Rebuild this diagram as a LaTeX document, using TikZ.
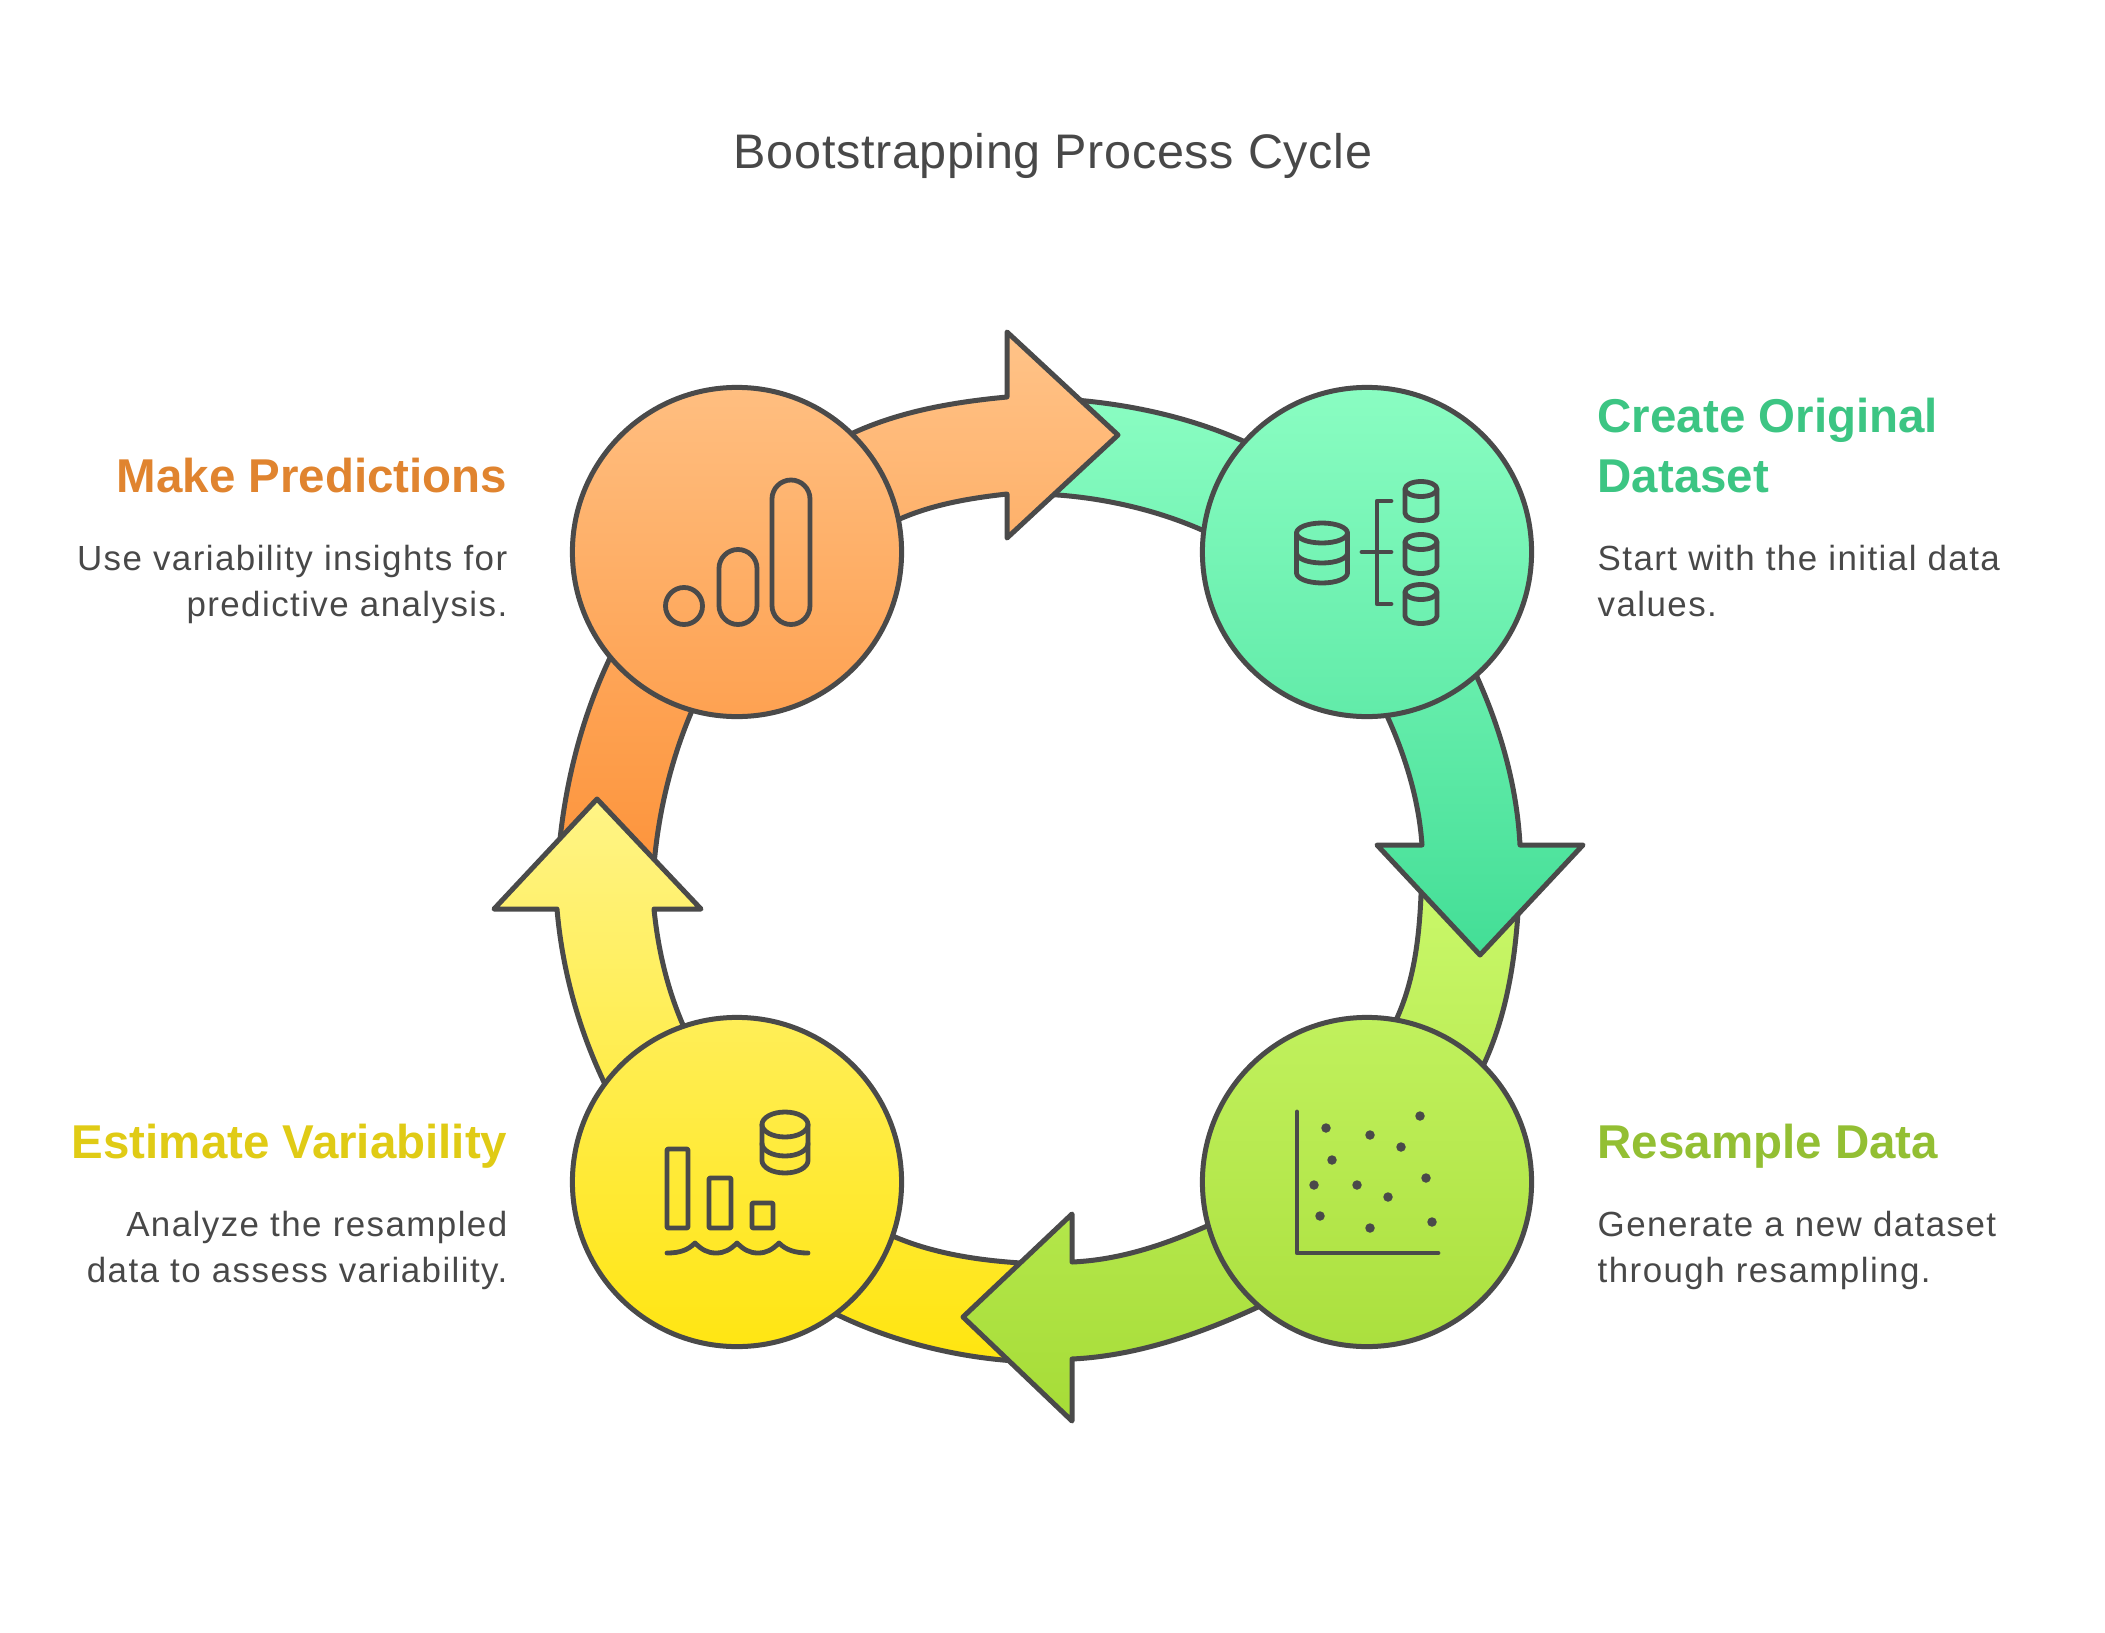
\documentclass[tikz,border=0pt]{standalone}
\usepackage{fontspec}
\setmainfont{Liberation Sans}
\newfontfamily\bodyfont[LetterSpace=4.1]{Liberation Sans}
\newfontfamily\titlefont[LetterSpace=1.3]{Liberation Sans}
\usepackage{xcolor}
\definecolor{inkgray}{HTML}{4A4A4A}
\definecolor{textgray}{HTML}{484848}
\definecolor{orangeA}{HTML}{FFC388}
\definecolor{orangeB}{HTML}{FD933A}
\definecolor{greenA}{HTML}{8AFDC2}
\definecolor{greenB}{HTML}{43DE96}
\definecolor{limeA}{HTML}{CBF96C}
\definecolor{limeB}{HTML}{A6DC37}
\definecolor{yellowA}{HTML}{FFF486}
\definecolor{yellowB}{HTML}{FFE50F}
\definecolor{orangehead}{HTML}{E0842F}
\definecolor{greenhead}{HTML}{3CC583}
\definecolor{limehead}{HTML}{93BF33}
\definecolor{yellowhead}{HTML}{E0CB15}
\newcommand{\dbcan}[5]{% x, y, x radius, y radius, height
  \draw[iconline] (#1,#2) ellipse [x radius=#3, y radius=#4];
  \draw[iconline] (#1-#3,#2) -- ++(0,#5) arc [start angle=180, end angle=0, x radius=#3, y radius=#4] -- (#1+#3,#2);
}
\begin{document}
\begin{tikzpicture}[
    x=0.01cm, y=-0.01cm,
    band/.style 2 args={top color=#1, bottom color=#2, draw=inkgray, line width=0.05cm, line join=round},
    stage/.style 2 args={circle, minimum size=3.29cm, inner sep=0pt, top color=#1, bottom color=#2, draw=inkgray, line width=0.05cm},
    iconline/.style={draw=inkgray, line width=0.048cm, line cap=round, line join=round},
    iconbar/.style={iconline, rounded corners=0.01cm},
    dot/.style={circle, fill=inkgray, inner sep=0pt, minimum size=0.095cm},
    heading/.style={font=\fontsize{13.5}{16.9}\selectfont\bfseries, inner sep=0pt},
    body/.style={font=\bodyfont\fontsize{9.93}{12.9}\selectfont, text=textgray, inner sep=0pt},
]
\useasboundingbox (0,0) rectangle (2105,1633);

% Title
\node[font=\titlefont\fontsize{13.8}{16}\selectfont, text=textgray, inner sep=0pt, anchor=base] (title) at (1053,168) {Bootstrapping Process Cycle};

% Bands running into the circles
\draw[band={greenA}{greenA!73!greenB}] (1040,398) .. controls (1109,400) and (1180,413) .. (1243,441) -- (1280,458) -- (1240,547) -- (1202,530) .. controls (1152,508) and (1095,496) .. (1040,494) -- cycle;
\draw[band={limeA}{limeA!57!limeB}] (1520,860) .. controls (1519,929) and (1513,1001) .. (1484,1064) -- (1468,1100) -- (1384,1048) -- (1397,1018) .. controls (1419,969) and (1421,914) .. (1422,860) -- cycle;
\draw[band={yellowA!25!yellowB}{yellowB}] (1040,1264) .. controls (991,1262) and (940,1256) .. (895,1237) -- (859,1222) -- (804,1299) -- (840,1316) .. controls (901,1345) and (972,1361) .. (1040,1362) -- cycle;
\draw[band={orangeA!44!orangeB}{orangeB}] (557,880) .. controls (560,805) and (577,728) .. (609,660) -- (625,625) -- (706,678) -- (691,713) .. controls (669,765) and (656,823) .. (653,880) -- cycle;

% Arrows leaving the circles
\draw[band={orangeA}{orangeA!62!orangeB}] (817,450) -- (853,433) .. controls (901,411) and (954,402) .. (1007,397) -- (1007,332) -- (1118,435) -- (1007,538) -- (1007,494) .. controls (971,498) and (935,504) .. (902,518) -- (866,533) -- cycle;
\draw[band={greenA!57!greenB}{greenB}] (1461,640) -- (1477,677) .. controls (1501,730) and (1517,787) .. (1520,845) -- (1583,845) -- (1480,955) -- (1377,845) -- (1422,845) .. controls (1419,801) and (1406,758) .. (1388,718) -- (1373,684) -- cycle;
\draw[band={limeA!37!limeB}{limeB}] (1294,1290) -- (1258,1307) .. controls (1200,1334) and (1136,1356) .. (1072,1359) -- (1072,1421) -- (963,1317) -- (1072,1214) -- (1072,1262) .. controls (1119,1260) and (1164,1245) .. (1207,1226) -- (1243,1210) -- cycle;
\draw[band={yellowA}{yellowA!44!yellowB}] (619,1116) -- (603,1080) .. controls (578,1027) and (562,968) .. (557,909) -- (494,909) -- (597,799) -- (701,909) -- (654,909) .. controls (658,949) and (667,988) .. (683,1025) -- (698,1060) -- cycle;

% Circles
\node[stage={greenA}{greenA!43!greenB}] (create) at (1367,552) {};
\node[stage={limeA!72!limeB}{limeA!13!limeB}] (resample) at (1367,1182) {};
\node[stage={yellowA!61!yellowB}{yellowA!3!yellowB}] (estimate) at (737,1182) {};
\node[stage={orangeA!90!orangeB}{orangeA!30!orangeB}] (predict) at (737,552) {};

% Icon: original dataset
\dbcan{1322}{533}{25.5}{10}{40}
\draw[iconline] (1296.5,553) arc [start angle=180, end angle=0, x radius=25.5, y radius=10];
\dbcan{1421}{489}{16}{7.5}{24}
\dbcan{1421}{542}{16}{7.5}{24}
\dbcan{1421}{592}{16}{7.5}{24}
\draw[iconline] (1391,501) -- (1377,501) -- (1377,604) -- (1391,604);
\draw[iconline] (1362,552) -- (1391,552);

% Icon: scatter plot
\draw[iconline] (1297,1112) -- (1297,1253) -- (1438,1253);
\foreach \px/\py in {1326/1128, 1370/1135, 1420/1116, 1401/1147, 1332/1160, 1314/1185, 1357/1185, 1426/1178, 1388/1197, 1320/1216, 1370/1228, 1432/1222}
  \node[dot] at (\px,\py) {};

% Icon: bars over waves
\draw[iconbar] (667,1149) rectangle (688,1228);
\draw[iconbar] (709,1178) rectangle (731,1228);
\draw[iconbar] (752,1203) rectangle (773,1228);
\dbcan{785}{1124.5}{23}{12.5}{36}
\draw[iconline] (762,1143.5) arc [start angle=180, end angle=0, x radius=23, y radius=12.5];
\draw[iconline] (667,1253) .. controls (680,1253) and (688,1250) .. (695,1243) .. controls (702,1250) and (708,1253) .. (716,1253) .. controls (724,1253) and (730,1250) .. (737,1243) .. controls (744,1250) and (750,1253) .. (758,1253) .. controls (766,1253) and (772,1250) .. (779,1243) .. controls (786,1250) and (795,1253) .. (808,1253);

% Icon: rising pills
\draw[iconline] (684,606) circle [radius=18.5];
\draw[iconline, rounded corners=0.19cm] (719,549.5) rectangle (757,624.5);
\draw[iconline, rounded corners=0.19cm] (772,480) rectangle (810,624.5);

% Right column
\node[heading, text=greenhead, anchor=base west, align=left] (createhead) at (1597,492) {Create Original\\Dataset};
\node[body, anchor=base west, align=left] (createbody) at (1597,616) {Start with the initial data\\values.};
\node[heading, text=limehead, anchor=base west] (resamplehead) at (1597,1158) {Resample Data};
\node[body, anchor=base west, align=left] (resamplebody) at (1597,1282) {Generate a new dataset\\through resampling.};

% Left column
\node[heading, text=orangehead, anchor=base east] (predicthead) at (508,492) {Make Predictions};
\node[body, anchor=base east, align=right] (predictbody) at (508,616) {Use variability insights for\\predictive analysis.};
\node[heading, text=yellowhead, anchor=base east] (estimatehead) at (508,1158) {Estimate Variability};
\node[body, anchor=base east, align=right] (estimatebody) at (508,1282) {Analyze the resampled\\data to assess variability.};

\end{tikzpicture}
\end{document}
